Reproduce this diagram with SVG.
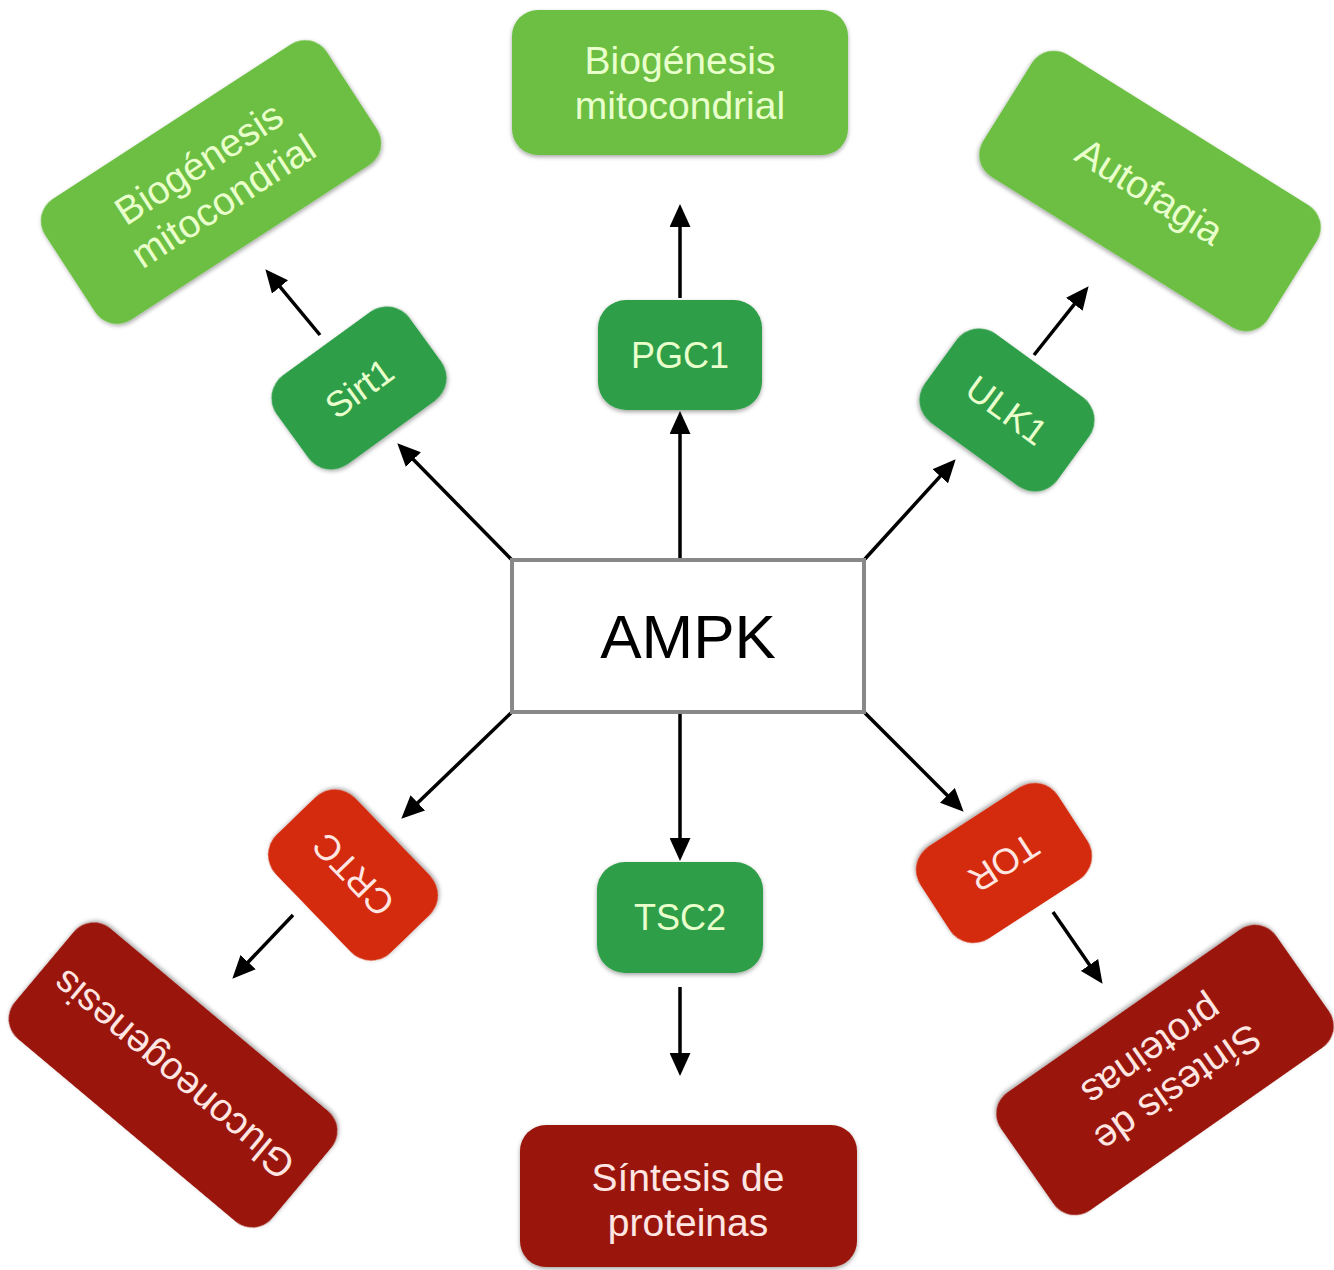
<svg xmlns="http://www.w3.org/2000/svg" width="1334" height="1270" viewBox="0 0 1334 1270">
<style>
.lg{fill:#6cbf43}
.dg{fill:#2f9e48}
.rd{fill:#d42a0e}
.dr{fill:#9a1509}
.t{font-family:"Liberation Sans",Arial,Helvetica,sans-serif;text-anchor:middle}
.tg{fill:#e9ffcc}
.tr{fill:#ffe6e2}
.big{font-size:39px}
.sm{font-size:36px}
.con{stroke:#000;stroke-width:3.5;fill:none;marker-end:url(#ah)}
</style>
<defs>
<marker id="ah" markerUnits="userSpaceOnUse" viewBox="0 0 23 21" markerWidth="23" markerHeight="21" refX="12" refY="10.5" orient="auto">
<path d="M0,0 L23,10.5 L0,21 z" fill="#000"/>
</marker>
<filter id="sh" x="-20%" y="-20%" width="140%" height="140%">
<feDropShadow dx="0" dy="2" stdDeviation="2" flood-color="#000" flood-opacity="0.35"/>
</filter>
</defs>
<rect width="1334" height="1270" fill="#fff"/>

<g id="connectors">
<line class="con" x1="680" y1="560" x2="680" y2="422"/>
<line class="con" x1="680" y1="298" x2="680" y2="215"/>
<line class="con" x1="680" y1="713" x2="680" y2="850"/>
<line class="con" x1="680" y1="987" x2="680" y2="1065"/>
<line class="con" x1="512" y1="560" x2="405" y2="451"/>
<line class="con" x1="320" y1="335" x2="272.4" y2="277.7"/>
<line class="con" x1="864" y1="560" x2="948.3" y2="467.4"/>
<line class="con" x1="1034" y1="355" x2="1081.8" y2="294.8"/>
<line class="con" x1="512" y1="712" x2="409.2" y2="811.1"/>
<line class="con" x1="293" y1="915" x2="239.9" y2="970.8"/>
<line class="con" x1="864" y1="712" x2="955.9" y2="803.9"/>
<line class="con" x1="1053" y1="912" x2="1096.3" y2="974.8"/>
</g>

<g id="ampk">
<rect x="512" y="560" width="352" height="152" fill="#fff" stroke="#888" stroke-width="4"/>
<text class="t" x="688" y="658" font-size="62" fill="#000">AMPK</text>
</g>

<g id="biog-top">
<rect class="lg" x="512" y="10" width="336" height="145" rx="26" filter="url(#sh)"/>
<text class="t tg big" x="680" y="74">Biogénesis</text>
<text class="t tg big" x="680" y="119">mitocondrial</text>
</g>

<g id="biog-left" transform="translate(211,182) rotate(-33)">
<rect class="lg" x="-168" y="-72" width="336" height="144" rx="26" filter="url(#sh)"/>
<text class="t tg big" x="0" y="-9">Biogénesis</text>
<text class="t tg big" x="0" y="36">mitocondrial</text>
</g>

<g id="autofagia" transform="translate(1150,191) rotate(32)">
<rect class="lg" x="-168" y="-72" width="336" height="144" rx="26" filter="url(#sh)"/>
<text class="t tg big" x="0" y="14">Autofagia</text>
</g>

<g id="pgc1">
<rect class="dg" x="598" y="300" width="164" height="110" rx="28" filter="url(#sh)"/>
<text class="t tg sm" x="680" y="368">PGC1</text>
</g>

<g id="sirt1" transform="translate(359,388) rotate(-36)">
<rect class="dg" x="-82" y="-55" width="164" height="110" rx="28" filter="url(#sh)"/>
<text class="t tg sm" x="0" y="13">Sirt1</text>
</g>

<g id="ulk1" transform="translate(1007,410) rotate(36)">
<rect class="dg" x="-82" y="-55" width="164" height="110" rx="28" filter="url(#sh)"/>
<text class="t tg sm" x="0" y="13">ULK1</text>
</g>

<g id="tsc2">
<rect class="dg" x="597" y="862" width="166" height="111" rx="28" filter="url(#sh)"/>
<text class="t tg sm" x="680" y="930">TSC2</text>
</g>

<g id="crtc" transform="translate(353,875) rotate(-134)">
<rect class="rd" x="-82" y="-55" width="164" height="110" rx="28" filter="url(#sh)"/>
<text class="t tr sm" x="0" y="13">CRTC</text>
</g>

<g id="tor" transform="translate(1004,863) rotate(147)">
<rect class="rd" x="-82" y="-55" width="164" height="110" rx="28" filter="url(#sh)"/>
<text class="t tr sm" x="0" y="13">TOR</text>
</g>

<g id="sintesis-bottom">
<rect class="dr" x="520" y="1125" width="337" height="142" rx="26" filter="url(#sh)"/>
<text class="t tr big" x="688" y="1191">Síntesis de</text>
<text class="t tr big" x="688" y="1236">proteinas</text>
</g>

<g id="gluconeogenesis" transform="translate(173,1075) rotate(-140)">
<rect class="dr" x="-168" y="-72" width="336" height="144" rx="26" filter="url(#sh)"/>
<text class="t tr big" x="0" y="14">Gluconeogenesis</text>
</g>

<g id="sintesis-right" transform="translate(1165,1070) rotate(145)">
<rect class="dr" x="-168" y="-72" width="336" height="144" rx="26" filter="url(#sh)"/>
<text class="t tr big" x="0" y="-9">Síntesis de</text>
<text class="t tr big" x="0" y="36">proteinas</text>
</g>
</svg>
